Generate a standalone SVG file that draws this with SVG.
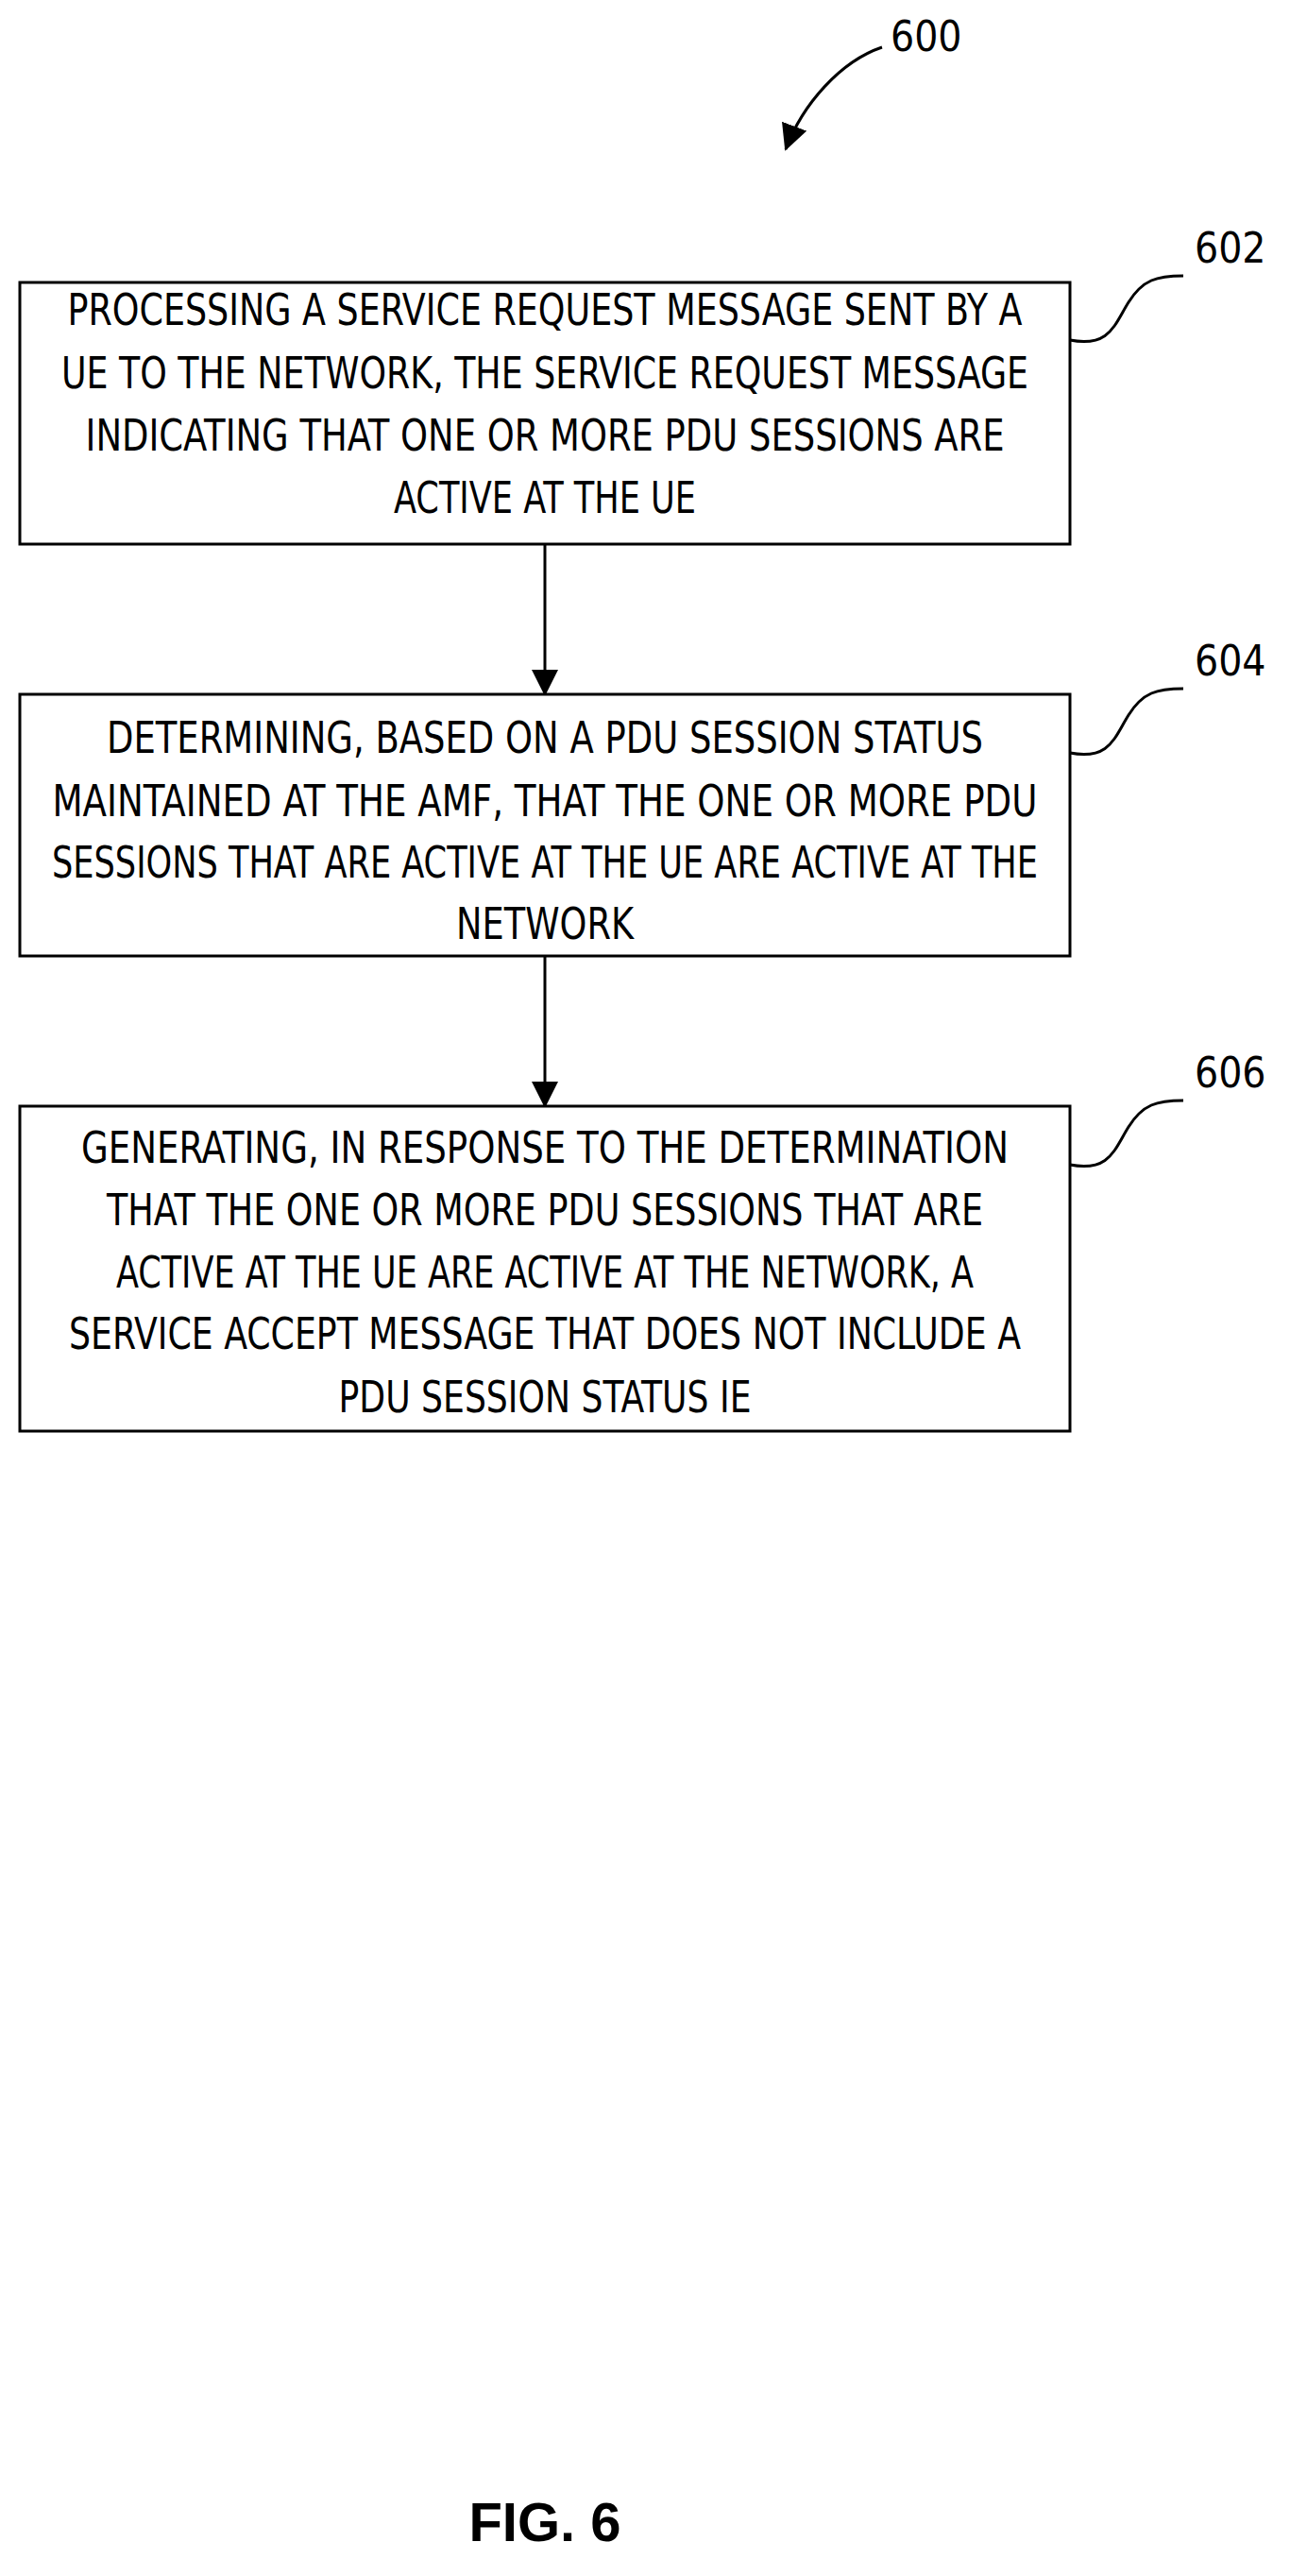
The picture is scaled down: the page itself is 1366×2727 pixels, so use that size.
<svg xmlns="http://www.w3.org/2000/svg" width="1366" height="2727" viewBox="0 0 1366 2727">
<style>
.box{fill:#fff;stroke:#000;stroke-width:3}
.t{font-family:"DejaVu Sans Condensed","DejaVu Sans",sans-serif;font-size:46px;text-anchor:middle;fill:#000}
.lbl{font-family:"DejaVu Sans Condensed","DejaVu Sans",sans-serif;font-size:44px;fill:#000}
.ln{fill:none;stroke:#000;stroke-width:3}
</style>
<defs><marker id="ah" markerWidth="10" markerHeight="10" refX="9" refY="5" orient="auto" markerUnits="userSpaceOnUse" viewBox="0 0 10 10"><path d="M0,0 L10,5 L0,10 z"/></marker>
<marker id="ah2" markerWidth="28" markerHeight="28" refX="26" refY="14" orient="auto" markerUnits="userSpaceOnUse" viewBox="0 0 28 28"><path d="M0,0 L28,14 L0,28 z"/></marker></defs>
<text class="lbl" x="943" y="54">600</text>
<g id="connectors">
<path class="ln" d="M934,50 C890,65 850,110 832,158" marker-end="url(#ah2)"/>
<path class="ln" d="M577,576 L577,735" marker-end="url(#ah2)"/>
<path class="ln" d="M577,1012 L577,1171" marker-end="url(#ah2)"/>
<path class="ln" d="M1133,360 C1175,368 1180,344 1195,320 C1210,296 1225,292 1253,292"/>
<path class="ln" d="M1133,797 C1175,805 1180,781 1195,757 C1210,733 1225,729 1253,729"/>
<path class="ln" d="M1133,1233 C1175,1241 1180,1217 1195,1193 C1210,1169 1225,1165 1253,1165"/>
</g>
<g id="n602"><rect class="box" x="21" y="299" width="1112" height="277"/>
<text class="t" x="577" y="344" textLength="1011" lengthAdjust="spacingAndGlyphs">PROCESSING A SERVICE REQUEST MESSAGE SENT BY A</text>
<text class="t" x="577" y="411" textLength="1024" lengthAdjust="spacingAndGlyphs">UE TO THE NETWORK, THE SERVICE REQUEST MESSAGE</text>
<text class="t" x="577" y="477" textLength="973" lengthAdjust="spacingAndGlyphs">INDICATING THAT ONE OR MORE PDU SESSIONS ARE</text>
<text class="t" x="577" y="543" textLength="320" lengthAdjust="spacingAndGlyphs">ACTIVE AT THE UE</text>
<text class="lbl" x="1265" y="278">602</text></g>
<g id="n604"><rect class="box" x="21" y="735" width="1112" height="277"/>
<text class="t" x="577" y="797" textLength="928" lengthAdjust="spacingAndGlyphs">DETERMINING, BASED ON A PDU SESSION STATUS</text>
<text class="t" x="577" y="864" textLength="1043" lengthAdjust="spacingAndGlyphs">MAINTAINED AT THE AMF, THAT THE ONE OR MORE PDU</text>
<text class="t" x="577" y="929" textLength="1044" lengthAdjust="spacingAndGlyphs">SESSIONS THAT ARE ACTIVE AT THE UE ARE ACTIVE AT THE</text>
<text class="t" x="577" y="994" textLength="188" lengthAdjust="spacingAndGlyphs">NETWORK</text>
<text class="lbl" x="1265" y="715">604</text></g>
<g id="n606"><rect class="box" x="21" y="1171" width="1112" height="344"/>
<text class="t" x="577" y="1231" textLength="982" lengthAdjust="spacingAndGlyphs">GENERATING, IN RESPONSE TO THE DETERMINATION</text>
<text class="t" x="577" y="1297" textLength="928" lengthAdjust="spacingAndGlyphs">THAT THE ONE OR MORE PDU SESSIONS THAT ARE</text>
<text class="t" x="577" y="1363" textLength="908" lengthAdjust="spacingAndGlyphs">ACTIVE AT THE UE ARE ACTIVE AT THE NETWORK, A</text>
<text class="t" x="577" y="1428" textLength="1008" lengthAdjust="spacingAndGlyphs">SERVICE ACCEPT MESSAGE THAT DOES NOT INCLUDE A</text>
<text class="t" x="577" y="1495" textLength="437" lengthAdjust="spacingAndGlyphs">PDU SESSION STATUS IE</text>
<text class="lbl" x="1265" y="1151">606</text></g>
<text x="577" y="2690" style="font-family:'Liberation Sans',Arial,sans-serif;font-weight:bold;font-size:58px;text-anchor:middle">FIG. 6</text>
</svg>
